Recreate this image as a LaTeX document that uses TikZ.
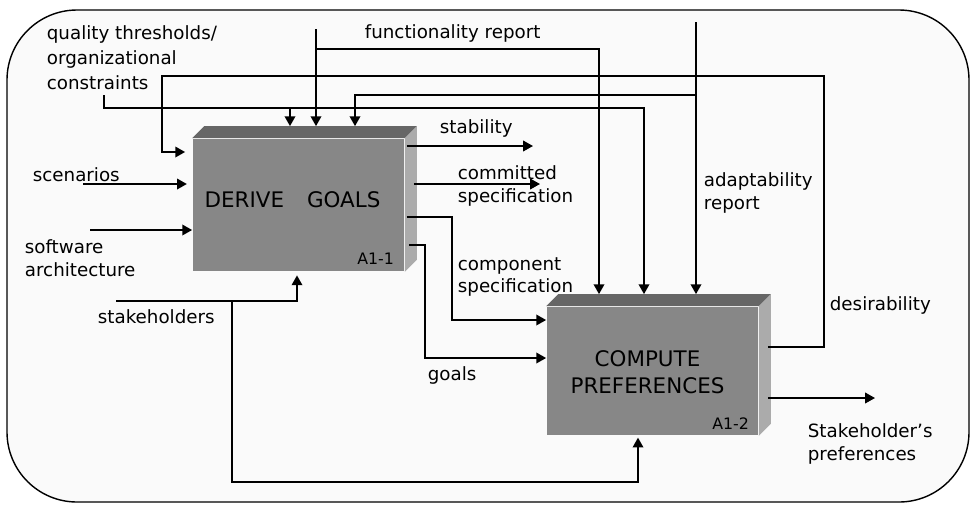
\documentclass[tikz,border=0pt]{standalone}
\usepackage{fontspec}
\setmainfont{DejaVu Sans}
\usetikzlibrary{arrows.meta,calc,positioning}

\begin{document}
\begin{tikzpicture}[x=0.02cm,y=-0.02cm,>={Triangle[length=5.6pt,width=6pt]},line width=1pt]
		\tikzstyle{every node}=[font=\fontsize{10.4}{13}\selectfont, inner sep=0pt]
		\tikzstyle{lbl}=[align=left, anchor=west]
		\tikzstyle{front}=[fill=black!47, minimum width=4.22cm]
		\tikzstyle{title}=[font=\fontsize{12.2}{15.5}\selectfont, align=center]
		\tikzstyle{code}=[font=\fontsize{9}{11}\selectfont, anchor=south east]
		\tikzstyle{gapend}=[shorten >=4pt]
		
		\useasboundingbox (0,0) rectangle (973,505);
		\draw[fill=black!2, line width=0.8pt, rounded corners=1.4cm] (7,10) rectangle (969,502);
		
		\node[front, minimum height=2.64cm] (dg) at (298.5,205) {};
		\fill[black!60] (dg.north west) -- ++(12,-12) -- ($(dg.north east)+(12,-12)$) -- (dg.north east) -- cycle;
		\fill[black!33] (dg.north east) -- ++(12,-12) -- ($(dg.south east)+(12,-12)$) -- (dg.south east) -- cycle;
		\node[title] (dgt) at ($(dg.center)+(-6,-5)$) {DERIVE\hspace{1.07em}GOALS};
		\node[code] (dgc) at ($(dg.south east)+(-10,-6)$) {A1-1};
		
		\node[front, minimum height=2.56cm] (cp) at (652.5,371) {};
		\fill[black!60] (cp.north west) -- ++(12,-12) -- ($(cp.north east)+(12,-12)$) -- (cp.north east) -- cycle;
		\fill[black!33] (cp.north east) -- ++(12,-12) -- ($(cp.south east)+(12,-12)$) -- (cp.south east) -- cycle;
		\node[title] (cpt) at ($(cp.center)+(-5,1)$) {COMPUTE\\PREFERENCES};
		\node[code] (cpc) at ($(cp.south east)+(-9,-6)$) {A1-2};
		
		\coordinate (dgtop) at ($(dg.north)+(0,-12)$);
		\coordinate (cptop) at ($(cp.north)+(0,-12)$);
		
		\node[lbl, font=\fontsize{10.4}{14.2}\selectfont] (qt) at (46,58) {quality thresholds/\\organizational\\constraints};
		\node[lbl] (fr) at (364,33) {functionality report};
		\node[lbl] (sc) at (32,175) {scenarios};
		\node[lbl] (sw) at (24,258) {software\\architecture};
		\node[lbl] (sh) at (97,317) {stakeholders};
		\node[lbl] (st) at (439,128) {stability};
		\node[lbl] (cs) at (457,186) {committed\\specification};
		\node[lbl] (co) at (457,277) {component\\specification};
		\node[lbl] (gl) at (427,375) {goals};
		\node[lbl] (ar) at (703,193) {adaptability\\report};
		\node[lbl] (de) at (829,305) {desirability};
		\node[lbl] (sp) at (807,444) {Stakeholder's\\preferences};
		
		% controls from above
		\coordinate (f0) at (316,29);
		\coordinate (f1) at (599,49);
		\draw[->] (f0) -- (f0 |- dgtop);
		\draw[->] (f0 |- f1) -- (f1) -- (f1 |- cptop);
		
		\coordinate (a0) at (696,22);
		\coordinate (a1) at (355,95);
		\draw[->] (a0) -- (a0 |- cptop);
		\draw[->] (a0 |- a1) -- (a1) -- (a1 |- dgtop);
		
		\coordinate (q0) at (104,95);
		\coordinate (q1) at (290,108);
		\coordinate (q2) at (644,108);
		\draw[->] (q0) -- (q0 |- q2) -- (q2) -- (q2 |- cptop);
		\draw[->] (q1) -- (q1 |- dgtop);
		
		\coordinate (d0) at (824,76);
		\coordinate (d1) at (162,152);
		\draw[->, gapend] ($(cp.east)+(9,-24)$) -| (d0) -| (d1) -- (d1 -| dg.west);
		
		% inputs
		\coordinate (s0) at (83,184);
		\coordinate (w0) at (90,230);
		\draw[->, shorten >=3pt] (s0) -- (s0 -| dg.west);
		\draw[->] (w0) -- (w0 -| dg.west);
		
		\coordinate (h0) at (116,301);
		\coordinate (h1) at (297,301);
		\coordinate (h2) at (232,301);
		\coordinate (h3) at (638,482);
		\draw[->, shorten >=2pt] (h0) -- (h1) -- (h1 |- dg.south);
		\draw[->, shorten >=1pt] (h2) |- (h3) -- (h3 |- cp.south);
		
		% outputs
		\coordinate (o1) at (533,146);
		\coordinate (o2) at (540,184);
		\coordinate (o3) at (452,320);
		\coordinate (o4) at (425,358);
		\draw[->] ($(dg.east)+(2,-59)$) -- (o1);
		\draw[->] ($(dg.east)+(9,-21)$) -- (o2);
		\draw[->] ($(dg.east)+(2,12)$) -| (o3) -- (o3 -| cp.west);
		\draw[->] ($(dg.east)+(4,40)$) -| (o4) -- (o4 -| cp.west);
		
		\coordinate (o5) at (875,398);
		\draw[->] ($(cp.east)+(9,27)$) -- (o5);
\end{tikzpicture}
\end{document}
